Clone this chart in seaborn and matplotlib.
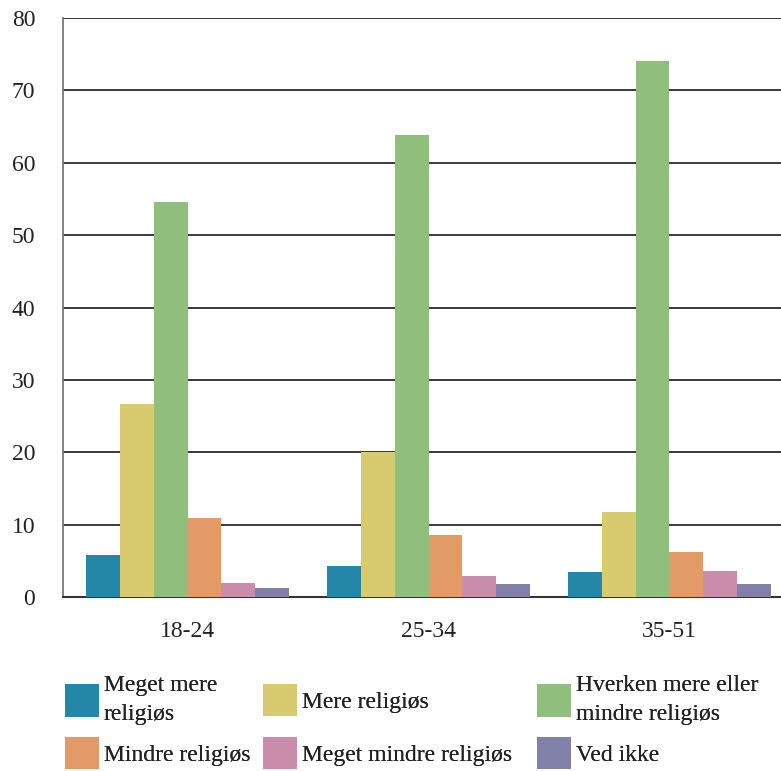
import matplotlib
matplotlib.use("Agg")
import matplotlib.pyplot as plt
import pandas as pd
import seaborn as sns

# data
age_groups = ["18-24", "25-34", "35-51"]
answers = [
    "Meget mere\nreligiøs",
    "Mere religiøs",
    "Hverken mere eller\nmindre religiøs",
    "Mindre religiøs",
    "Meget mindre religiøs",
    "Ved ikke",
]
meget_mere = [5.8, 4.3, 3.4]
mere = [26.6, 20.0, 11.8]
hverken = [54.6, 63.9, 74.0]
mindre = [10.9, 8.6, 6.2]
meget_mindre = [2.0, 2.9, 3.6]
ved_ikke = [1.2, 1.8, 1.8]

colors = ["#2587a8", "#d8ca6e", "#90be7d", "#e29a67", "#c98dab", "#8180a8"]

series = [meget_mere, mere, hverken, mindre, meget_mindre, ved_ikke]
rows = []
for answer, values in zip(answers, series):
    for age, v in zip(age_groups, values):
        rows.append({"Alder": age, "Svar": answer, "Procent": v})
df = pd.DataFrame(rows)

sns.set_style("white")
plt.rcParams["font.family"] = ["Liberation Serif", "DejaVu Serif"]

fig = plt.figure(figsize=(7.81, 7.71), dpi=100)
ax = fig.add_axes([63 / 781, 1 - 597 / 771, 718 / 781, 579 / 771])

sns.barplot(
    data=df, x="Alder", y="Procent", hue="Svar", hue_order=answers,
    palette=colors, width=0.84, saturation=1, ax=ax, zorder=3,
    linewidth=0, edgecolor="none",
)

ax.set_ylim(0, 80)
ax.set_xlim(-0.517, 2.463)
ax.set_yticks(range(0, 81, 10))
ax.yaxis.grid(True, color="#2a2a2a", linewidth=1.3, zorder=0)
ax.set_axisbelow(True)
ax.set_xlabel("")
ax.set_ylabel("")
ax.tick_params(axis="both", length=0, labelsize=17, colors="#222222")
ax.tick_params(axis="x", pad=17)
ax.tick_params(axis="y", pad=20)
for side in ["top", "right"]:
    ax.spines[side].set_visible(False)
ax.spines["left"].set_color("#777777")
ax.spines["left"].set_linewidth(1.3)
ax.spines["bottom"].set_color("#333333")
ax.spines["bottom"].set_linewidth(1.5)

# legend: one small legend per entry so the grid lines up like the original
handles, labels = ax.get_legend_handles_labels()
ax.get_legend().remove()
col_x = [65, 263, 537]
row_y = [700, 753]
for i, (h, lab) in enumerate(zip(handles, labels)):
    x = col_x[i % 3]
    y = row_y[i // 3]
    leg = fig.legend(
        [h], [lab], loc="center left",
        bbox_to_anchor=(x / 781, 1 - y / 771),
        frameon=False, fontsize=17, handlelength=1.45, handleheight=1.75,
        handletextpad=0.2, borderpad=0, borderaxespad=0,
        labelcolor="#222222",
    )
    for t in leg.get_texts():
        t.set_linespacing(1.5)
    fig.add_artist(leg)

fig.savefig("out.png", dpi=100)
